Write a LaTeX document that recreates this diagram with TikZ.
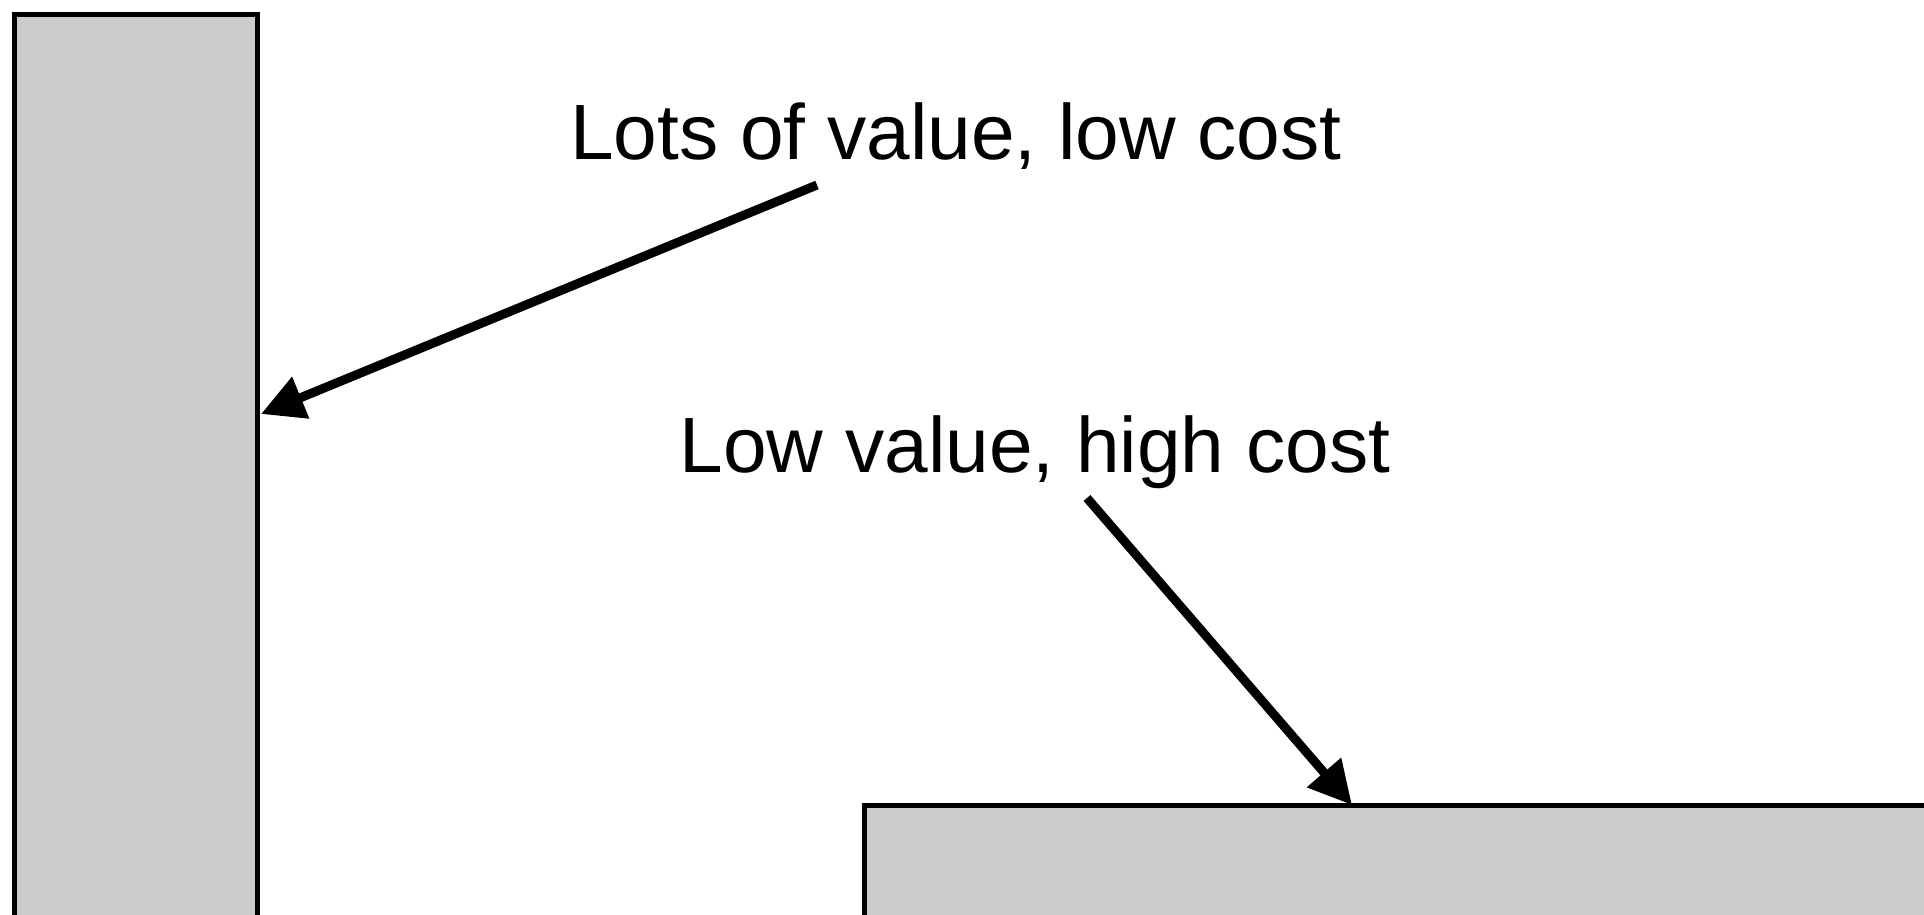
\documentclass[tikz,border=0pt]{standalone}
\usepackage{fontspec}
\setmainfont{Liberation Sans}
\usetikzlibrary{arrows.meta}
\definecolor{boxgray}{HTML}{CBCBCB}
\tikzset{
  bar/.style={draw=black, fill=boxgray, line width=4.7pt},
  label/.style={font=\fontsize{78.4}{84}\selectfont, inner sep=0pt, anchor=base},
  pointer/.style={line width=9pt, -{Triangle[length=43pt, width=43pt]}}
}
\begin{document}
\begin{tikzpicture}[x=1pt, y=-1pt]
\useasboundingbox (0,0) rectangle (1924,914);
\clip (0,0) rectangle (1924,914);
\fill[white] (0,0) rectangle (1924,914);
\draw[bar] (14.3,14.3) rectangle (257.7,940);
\draw[bar] (864.3,805.3) rectangle (1960,940);
\coordinate (leftbar) at (261,414);
\coordinate (bottombar) at (1352,805);
\node[label] (t1) at (956,159) {Lots of value, low cost};
\node[label] (t2) at (1035,472) {Low value, high cost};
\coordinate (s1) at (817,185);
\coordinate (s2) at (1087,498);
\draw[pointer] (s1) -- (leftbar);
\draw[pointer] (s2) -- (bottombar);
\end{tikzpicture}
\end{document}
